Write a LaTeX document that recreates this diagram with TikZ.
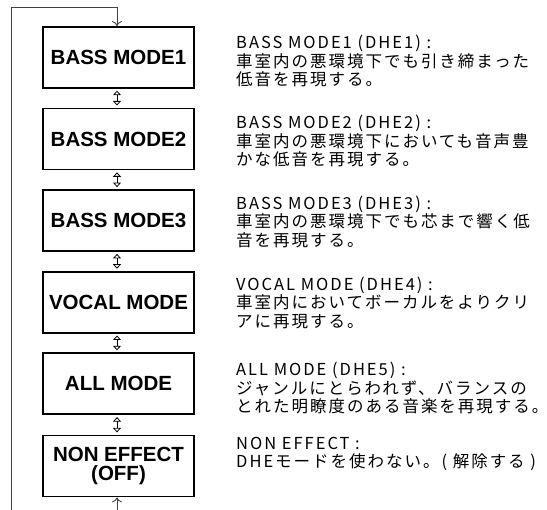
\documentclass[tikz,border=0pt]{standalone}
\usepackage{fontspec}
\setmainfont{Liberation Sans}
\newfontfamily\jp[LetterSpace=12]{Noto Sans CJK JP}
\usetikzlibrary{arrows.meta}
\begin{document}
\begin{tikzpicture}[x=1pt,y=-1pt,
  modebox/.style={draw,line width=1.8pt,minimum width=151pt,minimum height=61pt,inner sep=0pt,
    align=center,font=\fontsize{20.5}{21}\selectfont\bfseries},
  desc/.style={anchor=north west,inner sep=0pt,align=left,
    font=\jp\fontsize{16.5}{18.5}\selectfont,text=black},
  dbl/.style={line width=0.8pt,{Triangle[open,length=4.5pt,width=8pt]}-{Triangle[open,length=4.5pt,width=8pt]},shorten <=1.8pt,shorten >=2.2pt},
  loop/.style={line width=0.9pt,draw=black!75},
  tip/.style={-{To[length=5pt,width=10pt]}}
]
\useasboundingbox (0,0) rectangle (547,510);
\node[modebox] (m1) at (118.5,57.5) {BASS MODE1};
\node[modebox] (m2) at (118.5,139.1) {BASS MODE2};
\node[modebox] (m3) at (118.5,220.7) {BASS MODE3};
\node[modebox] (m4) at (118.5,302.3) {VOCAL MODE};
\node[modebox] (m5) at (118.5,383.9) {ALL MODE};
\node[modebox] (m6) at (118.5,466) {NON EFFECT\\[-2pt](OFF)};
\foreach \a/\b in {m1/m2,m2/m3,m3/m4,m4/m5,m5/m6}
  \draw[dbl] ([xshift=-1.5pt]\a.south) -- ([xshift=-1.5pt]\b.north);
\coordinate (tl) at (11,7);
\coordinate (tr) at (117,7);
\coordinate (bl) at (11,512);
\coordinate (br) at (117,512);
\draw[loop] (bl) -- (tl) -- (tr);
\draw[loop,tip] (tr) -- (m1.north -| tr);
\draw[loop,tip] (br) -- (m6.south -| br);
\node[desc] (d1) at (236,35) {BASS MODE1 (DHE1) :\\車室内の悪環境下でも引き締まった\\低音を再現する。};
\node[desc] (d2) at (236,115) {BASS MODE2 (DHE2) :\\車室内の悪環境下においても音声豊\\かな低音を再現する。};
\node[desc] (d3) at (236,195.5) {BASS MODE3 (DHE3) :\\車室内の悪環境下でも芯まで響く低\\音を再現する。};
\node[desc] (d4) at (236,276.5) {VOCAL MODE (DHE4) :\\車室内においてボーカルをよりクリ\\アに再現する。};
\node[desc] (d5) at (236,362) {ALL MODE (DHE5) :\\ジャンルにとらわれず、バランスの\\とれた明瞭度のある音楽を再現する。};
\node[desc] (d6) at (236,436.5) {NON EFFECT :\\DHEモードを使わない。( 解除する )};
\end{tikzpicture}
\end{document}
